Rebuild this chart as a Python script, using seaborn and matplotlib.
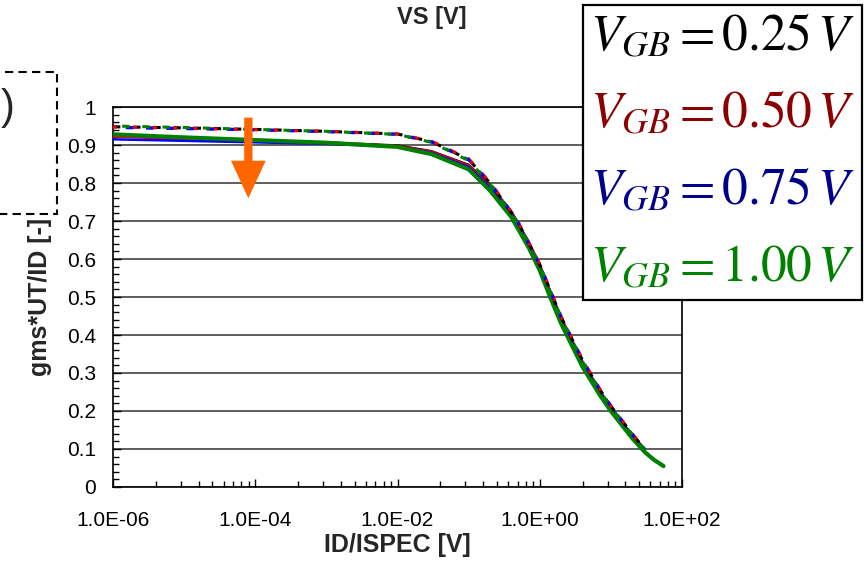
import numpy as np
import pandas as pd
import matplotlib
matplotlib.use("Agg")
import matplotlib.pyplot as plt
import seaborn as sns
from matplotlib.lines import Line2D
from matplotlib.patches import Rectangle
from matplotlib.ticker import FixedLocator, FixedFormatter, MultipleLocator

# ---------------- data ----------------
vgb_labels = ["0.25", "0.50", "0.75", "1.00"]
line_colors = ["#000000", "#FF0000", "#0000FF", "#008000"]
legend_colors = ["#000000", "#8B0000", "#00008B", "#008000"]

x_solid = [1e-6, 1e-5, 1e-4, 1e-3, 1e-2, 0.03, 0.1, 0.2, 0.4, 0.7, 1.0, 1.4, 2.0, 4.0, 7.0, 10, 20, 30]
x_solid_green = x_solid + [40, 55]
gm_solid_025 = [0.925, 0.918, 0.912, 0.907, 0.899, 0.884, 0.848, 0.795, 0.725, 0.645, 0.585, 0.515, 0.445, 0.328, 0.252, 0.210, 0.135, 0.100]
gm_solid_050 = [0.922, 0.915, 0.910, 0.905, 0.898, 0.883, 0.846, 0.793, 0.724, 0.645, 0.586, 0.517, 0.447, 0.330, 0.253, 0.211, 0.136, 0.100]
gm_solid_075 = [0.915, 0.911, 0.907, 0.903, 0.896, 0.880, 0.842, 0.788, 0.720, 0.640, 0.580, 0.511, 0.441, 0.326, 0.250, 0.208, 0.134, 0.098]
gm_solid_100 = [0.928, 0.920, 0.913, 0.906, 0.895, 0.876, 0.836, 0.780, 0.710, 0.630, 0.570, 0.500, 0.430, 0.316, 0.242, 0.200, 0.128, 0.092, 0.072, 0.055]

x_dash = [1e-6, 1e-5, 1e-4, 1e-3, 1e-2, 0.03, 0.1, 0.2, 0.3, 0.5, 0.8, 1.0, 1.4, 2.0, 4.0, 7.0, 10, 20, 30]
gm_dash_025 = [0.948, 0.945, 0.941, 0.936, 0.929, 0.909, 0.862, 0.800, 0.755, 0.695, 0.620, 0.585, 0.518, 0.447, 0.333, 0.256, 0.213, 0.139, 0.100]
gm_dash_050 = [0.947, 0.944, 0.940, 0.936, 0.929, 0.910, 0.864, 0.802, 0.757, 0.697, 0.622, 0.587, 0.520, 0.449, 0.335, 0.258, 0.214, 0.140, 0.101]
gm_dash_075 = [0.946, 0.943, 0.940, 0.935, 0.928, 0.908, 0.861, 0.799, 0.754, 0.694, 0.619, 0.584, 0.517, 0.446, 0.332, 0.255, 0.212, 0.138, 0.099]
gm_dash_100 = [0.950, 0.946, 0.941, 0.936, 0.928, 0.907, 0.859, 0.797, 0.752, 0.692, 0.617, 0.582, 0.515, 0.444, 0.330, 0.253, 0.210, 0.137, 0.098]

x_major = [1e-6, 1e-4, 1e-2, 1e0, 1e2]
x_major_labels = ["1.0E-06", "1.0E-04", "1.0E-02", "1.0E+00", "1.0E+02"]
y_major = [0, 0.1, 0.2, 0.3, 0.4, 0.5, 0.6, 0.7, 0.8, 0.9, 1.0]
y_major_labels = ["0", "0.1", "0.2", "0.3", "0.4", "0.5", "0.6", "0.7", "0.8", "0.9", "1"]

# ---------------- style ----------------
sns.set_style("ticks")
plt.rcParams["font.family"] = ["Liberation Sans", "DejaVu Sans"]
plt.rcParams["mathtext.fontset"] = "stix"

fig = plt.figure(figsize=(8.67, 5.63), dpi=100)
W, H = 867, 563
ax = fig.add_axes([113 / W, 1 - 487 / H, (682 - 113) / W, (487 - 107) / H])

solid_sets = [(x_solid, gm_solid_025), (x_solid, gm_solid_050), (x_solid, gm_solid_075), (x_solid_green, gm_solid_100)]
dash_sets = [(x_dash, gm_dash_025), (x_dash, gm_dash_050), (x_dash, gm_dash_075), (x_dash, gm_dash_100)]
solid_lw = [1.6, 1.6, 1.8, 3.0]

for i, (xs, ys) in enumerate(solid_sets):
    df = pd.DataFrame({"x": xs, "y": ys})
    sns.lineplot(data=df, x="x", y="y", ax=ax, color=line_colors[i], lw=solid_lw[i],
                 estimator=None, sort=False, zorder=3 + i)

for i, (xs, ys) in enumerate(dash_sets):
    df = pd.DataFrame({"x": xs, "y": ys})
    sns.lineplot(data=df, x="x", y="y", ax=ax, color=line_colors[i], lw=2.2,
                 linestyle=(i * 1.2, (2.4, 4.2)), estimator=None, sort=False, zorder=8 + i)

ax.set_xscale("log")
ax.set_xlim(1e-6, 1e2)
ax.set_ylim(0, 1)

minor = []
for b in x_major[:-1]:
    for k in range(2, 10):
        minor.append(b * k * k)
ax.xaxis.set_major_locator(FixedLocator(x_major))
ax.xaxis.set_major_formatter(FixedFormatter(x_major_labels))
ax.xaxis.set_minor_locator(FixedLocator(minor))
ax.xaxis.set_minor_formatter(FixedFormatter([""] * len(minor)))
ax.yaxis.set_major_locator(FixedLocator(y_major))
ax.yaxis.set_major_formatter(FixedFormatter(y_major_labels))
ax.yaxis.set_minor_locator(MultipleLocator(0.02))

ax.tick_params(axis="both", which="both", direction="in", colors="black")
ax.tick_params(axis="both", which="major", length=6, width=1, labelsize=15)
ax.tick_params(axis="both", which="minor", length=4, width=1)
ax.tick_params(axis="y", which="major", pad=12)
ax.tick_params(axis="x", which="major", pad=17)

ax.grid(axis="y", which="major", color="#333333", lw=1.1)
ax.grid(axis="x", visible=False)
ax.set_axisbelow(True)
for s in ax.spines.values():
    s.set_color("black")
    s.set_linewidth(1.2)

ax.set_xlabel("ID/ISPEC [V]", fontsize=18, fontweight="bold")
ax.set_ylabel("gms*UT/ID [-]", fontsize=18, fontweight="bold")
ax.xaxis.set_label_coords(0.5, (487 - 533) / 380)
ax.yaxis.set_label_coords((52 - 113) / 569, 0.5)
ax.set_title("VS [V]", fontsize=17, fontweight="bold", x=(432 - 113) / 569, y=(487 - 26) / 380, va="center")

# orange arrow
ax.annotate("", xy=(8e-5, 0.76), xytext=(8e-5, 0.972),
            arrowprops=dict(facecolor="#FF6600", edgecolor="none", width=6, headwidth=25,
                            headlength=27, shrink=0), zorder=20)

# legend
handles = [Line2D([], [], linestyle="none") for _ in vgb_labels]
labels = [r"$V_{GB}=%s\,V$" % v for v in vgb_labels]
leg = fig.legend(handles, labels, loc="upper right", bbox_to_anchor=(862 / W, 1 - 5 / H),
                 handlelength=0, handletextpad=0, fontsize=37, labelcolor=legend_colors,
                 frameon=True, fancybox=False, edgecolor="black", framealpha=1,
                 borderpad=0.14, labelspacing=0.55, borderaxespad=0)
leg.get_frame().set_linewidth(1.6)

# partial panel label box on left
fig.patches.append(Rectangle((-5 / W, 1 - 214 / H), 62 / W, 142 / H, transform=fig.transFigure,
                             fill=False, ec="black", lw=1.5, ls=(0, (4, 2.5))))
fig.text(1 / W, 1 - 108 / H, ")", ha="left", va="center", fontsize=30)

fig.savefig("out.png", dpi=100)
